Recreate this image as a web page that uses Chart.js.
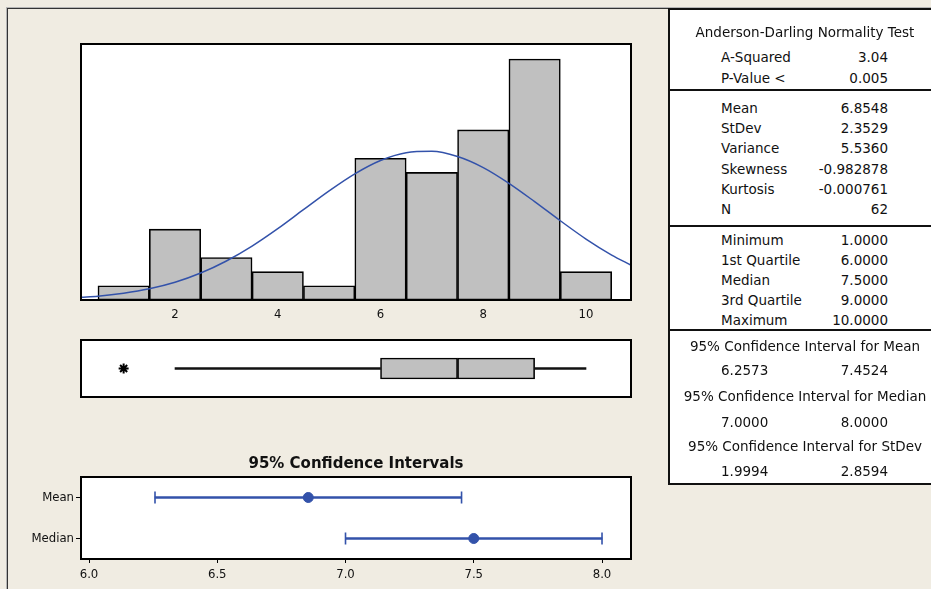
<!DOCTYPE html>
<html>
<head>
<meta charset="utf-8">
<script src="https://cdn.jsdelivr.net/npm/chart.js@4/dist/chart.umd.min.js"></script>
<style>
html,body{margin:0;padding:0;}
body{width:931px;height:589px;overflow:hidden;background:#F0ECE2;position:relative;font-family:'DejaVu Sans',sans-serif;}
#frame{position:absolute;left:7px;top:8px;width:1000px;height:700px;border-left:1px solid #333;border-top:1px solid #333;box-shadow:-1px -1px 0 #b5b5b5;}
canvas{position:absolute;left:0;}
#table{position:absolute;left:668px;top:8px;width:300px;height:473px;background:#fff;border:2px solid #111;}
.sep{position:absolute;left:668px;width:300px;height:0;border-top:2px solid #111;}
.t{position:absolute;font-size:13.5px;line-height:20px;color:#111;white-space:nowrap;}
</style>
</head>
<body>
<div id="frame"></div>
<canvas id="hist" width="668" height="330" style="top:0"></canvas>
<canvas id="box" width="668" height="80" style="top:330px"></canvas>
<canvas id="ci" width="668" height="149" style="top:440px"></canvas>
<div id="table"></div>
<script>
// ---------- data ----------
const binCenters = [1, 2, 3, 4, 5, 6, 7, 8, 9, 10];
const binCounts  = [1, 5, 3, 2, 1, 10, 9, 12, 17, 2];
const histTicks  = [2, 4, 6, 8, 10];
const curveX = [0.17, 0.5, 1, 1.5, 2, 2.5, 3, 3.5, 4, 4.5, 5, 5.5, 6, 6.5, 7, 7.5, 8, 8.5, 9, 9.5, 10, 10.5, 10.88];
const curveY = [0.19, 0.27, 0.48, 0.79, 1.25, 1.90, 2.75, 3.80, 5.03, 6.37, 7.70, 8.90, 9.84, 10.39, 10.49, 10.12, 9.34, 8.23, 6.94, 5.59, 4.30, 3.17, 2.45];
const quartiles = [6, 7.5, 9];
const whiskers  = [2, 10];
const outliers  = [1];
const ciLabels    = ['Mean', 'Median'];
const ciLow       = [6.2573, 7.0];
const ciHigh      = [7.4524, 8.0];
const ciEstimate  = [6.8548, 7.5];
const ciTicks     = [6.0, 6.5, 7.0, 7.5, 8.0];
const ciTitle     = '95% Confidence Intervals';
const tableTitle  = 'Anderson-Darling Normality Test';
const adRows      = [['A-Squared', '3.04'], ['P-Value <', '0.005']];
const momentRows  = [['Mean', '6.8548'], ['StDev', '2.3529'], ['Variance', '5.5360'], ['Skewness', '-0.982878'], ['Kurtosis', '-0.000761'], ['N', '62']];
const quantRows   = [['Minimum', '1.0000'], ['1st Quartile', '6.0000'], ['Median', '7.5000'], ['3rd Quartile', '9.0000'], ['Maximum', '10.0000']];
const ciRows      = [['95% Confidence Interval for Mean', '6.2573', '7.4524'], ['95% Confidence Interval for Median', '7.0000', '8.0000'], ['95% Confidence Interval for StDev', '1.9994', '2.8594']];

// ---------- styling ----------
Chart.defaults.font.family = "'DejaVu Sans Condensed','DejaVu Sans',sans-serif";
Chart.defaults.font.size = 13;
Chart.defaults.color = '#111';
Chart.defaults.animation = false;
const BLUE = '#3352AA';
const XMIN = 0.17, XMAX = 10.876;

const framePlugin = {
  id: 'frame',
  beforeDraw(chart) {
    const a = chart.chartArea, c = chart.ctx;
    c.save(); c.fillStyle = '#fff';
    c.fillRect(a.left, a.top, a.right - a.left, a.bottom - a.top);
    c.restore();
  },
  afterDraw(chart) {
    const a = chart.chartArea, c = chart.ctx;
    c.save(); c.strokeStyle = '#000'; c.lineWidth = 2;
    c.strokeRect(a.left, a.top, a.right - a.left, a.bottom - a.top);
    c.restore();
  }
};
const noUI = { legend: { display: false }, tooltip: { enabled: false } };

// ---------- histogram ----------
new Chart(document.getElementById('hist'), {
  type: 'bar',
  data: {
    datasets: [
      { type: 'line', data: curveX.map((x, i) => ({ x, y: curveY[i] })), borderColor: BLUE, borderWidth: 1.5,
        pointRadius: 0, cubicInterpolationMode: 'monotone', order: 0 },
      { type: 'bar', data: binCenters.map((x, i) => ({ x, y: binCounts[i] })), backgroundColor: '#C0C0C0',
        borderColor: '#000', borderWidth: 1.6, borderSkipped: false, barPercentage: 1, categoryPercentage: 1, order: 1 }
    ]
  },
  options: {
    responsive: false, devicePixelRatio: 1,
    layout: { padding: { left: 81, right: 37, top: 44, bottom: 0 } },
    plugins: noUI,
    scales: {
      x: { type: 'linear', min: XMIN, max: XMAX, offset: false,
           grid: { display: false, drawTicks: false, tickLength: 0, offset: false }, border: { display: false },
           afterBuildTicks: s => { s.ticks = histTicks.map(v => ({ value: v })); },
           afterFit: s => { s.height = 30; },
           ticks: { padding: 7, maxRotation: 0, autoSkip: false, callback: v => String(v) } },
      y: { display: false, min: 0, max: 18.06 }
    }
  },
  plugins: [framePlugin]
});

// ---------- boxplot ----------
new Chart(document.getElementById('box'), {
  type: 'bar',
  data: {
    labels: ['box'],
    datasets: [
      { data: [[whiskers[0], quartiles[0]]], backgroundColor: '#111', barThickness: 2, grouped: false },
      { data: [[quartiles[2], whiskers[1]]], backgroundColor: '#111', barThickness: 2, grouped: false },
      { data: [[quartiles[0], quartiles[1]]], backgroundColor: '#C0C0C0', borderColor: '#000', borderWidth: 1.6,
        borderSkipped: false, barThickness: 21, grouped: false },
      { data: [[quartiles[1], quartiles[2]]], backgroundColor: '#C0C0C0', borderColor: '#000', borderWidth: 1.6,
        borderSkipped: false, barThickness: 21, grouped: false },
      { type: 'line', indexAxis: 'y', data: outliers.map(v => ({ x: v, y: 'box' })), showLine: false,
        pointStyle: 'star', pointRadius: 5, borderColor: '#000', borderWidth: 2 }
    ]
  },
  options: {
    indexAxis: 'y', responsive: false, devicePixelRatio: 1,
    layout: { padding: { left: 81, right: 37, top: 10, bottom: 13 } },
    plugins: noUI,
    scales: {
      x: { type: 'linear', min: XMIN, max: XMAX, display: false, beginAtZero: false },
      y: { display: false }
    }
  },
  plugins: [framePlugin]
});

// ---------- confidence intervals ----------
new Chart(document.getElementById('ci'), {
  type: 'bar',
  data: {
    labels: ciLabels,
    datasets: [
      { data: ciLabels.map((l, i) => [ciLow[i], ciHigh[i]]), backgroundColor: BLUE, barThickness: 2, grouped: false },
      { type: 'line', indexAxis: 'y', data: ciLabels.map((l, i) => ({ x: ciLow[i], y: l })), showLine: false,
        pointStyle: 'line', pointRotation: 90, pointRadius: 6, borderColor: BLUE, borderWidth: 1.6 },
      { type: 'line', indexAxis: 'y', data: ciLabels.map((l, i) => ({ x: ciHigh[i], y: l })), showLine: false,
        pointStyle: 'line', pointRotation: 90, pointRadius: 6, borderColor: BLUE, borderWidth: 1.6 },
      { type: 'line', indexAxis: 'y', data: ciLabels.map((l, i) => ({ x: ciEstimate[i], y: l })), showLine: false,
        pointStyle: 'circle', pointRadius: 5, backgroundColor: BLUE, borderColor: BLUE, borderWidth: 1 }
    ]
  },
  options: {
    indexAxis: 'y', responsive: false, devicePixelRatio: 1,
    layout: { padding: { left: 0, right: 37, top: 0, bottom: 0 } },
    plugins: Object.assign({}, noUI, {
      title: { display: true, text: ciTitle, fullSize: false, color: '#111',
               font: { family: "'DejaVu Sans',sans-serif", size: 15, weight: 'bold', lineHeight: 1.2 },
               padding: { top: 15, bottom: 4 } }
    }),
    scales: {
      x: { type: 'linear', min: 5.9688, max: 8.113, beginAtZero: false, offset: false,
           grid: { drawOnChartArea: false, drawTicks: true, tickLength: 4, color: '#000', offset: false },
           border: { display: false },
           afterBuildTicks: s => { s.ticks = ciTicks.map(v => ({ value: v })); },
           afterFit: s => { s.height = 30; },
           ticks: { padding: 4, maxRotation: 0, autoSkip: false, callback: v => Number(v).toFixed(1) } },
      y: { type: 'category', offset: true,
           grid: { drawOnChartArea: false, drawTicks: true, tickLength: 5, color: '#000', offset: false },
           border: { display: false },
           afterFit: s => { s.width = 81; },
           ticks: { padding: 2 } }
    }
  },
  plugins: [framePlugin]
});

// ---------- statistics table ----------
function addText(txt, top, opts) {
  const d = document.createElement('div');
  d.className = 't';
  d.textContent = txt;
  d.style.top = (top - 10) + 'px';
  Object.assign(d.style, opts);
  document.body.appendChild(d);
}
function leftCell(txt, y) { addText(txt, y, { left: '721px' }); }
function rightCell(txt, y) { addText(txt, y, { right: (931 - 888) + 'px', textAlign: 'right' }); }
function centerCell(txt, y) { addText(txt, y, { left: '605px', width: '400px', textAlign: 'center' }); }
function sep(y) { const d = document.createElement('div'); d.className = 'sep'; d.style.top = y + 'px'; document.body.appendChild(d); }

centerCell(tableTitle, 32);
const adY = [57, 78];
adRows.forEach((r, i) => { leftCell(r[0], adY[i]); rightCell(r[1], adY[i]); });
sep(89);
const momY = [108, 128, 148, 169, 189, 209];
momentRows.forEach((r, i) => { leftCell(r[0], momY[i]); rightCell(r[1], momY[i]); });
sep(225);
const qY = [240, 260, 280, 300, 320];
quantRows.forEach((r, i) => { leftCell(r[0], qY[i]); rightCell(r[1], qY[i]); });
sep(329);
const ciTitleY = [346, 396, 446], ciValY = [370, 422, 471];
ciRows.forEach((r, i) => { centerCell(r[0], ciTitleY[i]); leftCell(r[1], ciValY[i]); rightCell(r[2], ciValY[i]); });
</script>
</body>
</html>
